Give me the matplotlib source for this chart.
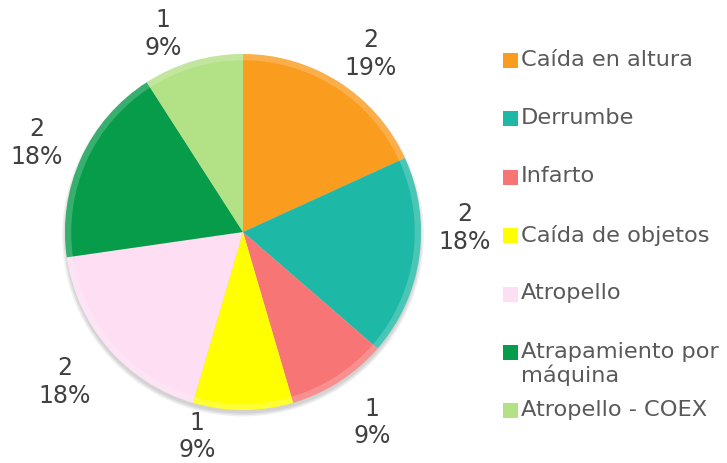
import matplotlib
matplotlib.use("Agg")
import numpy as np
import matplotlib.pyplot as plt
from matplotlib.patches import Rectangle, Circle

categories = ["Caída en altura", "Derrumbe", "Infarto", "Caída de objetos",
              "Atropello", "Atrapamiento por\nmáquina", "Atropello - COEX"]
counts = [2, 2, 1, 1, 2, 2, 1]
pct_labels = ["19%", "18%", "9%", "9%", "18%", "18%", "9%"]
colors = ["#FA9C1D", "#1EB8A6", "#F87575", "#FFFF00", "#FDDEF3", "#079C4A", "#B3E186"]

# label placement (Excel "best fit"): radius factor and angular nudge in degrees
label_r = [1.234, 1.248, 1.288, 1.172, 1.304, 1.263, 1.205]
label_dtheta = [-2.7, 9.4, 1.5, -12.7, -1.0, 0.9, 5.5]

W, H = 727, 464
fig = plt.figure(figsize=(W / 100, H / 100), dpi=100)

# pie centre / radius in pixels
cx, cy, R = 243, 233, 178
lim = 1.32
half = lim * R
ax = fig.add_axes([(cx - half) / W, (H - cy - half) / H, 2 * half / W, 2 * half / H])

# soft shadow
for i in range(3):
    ax.add_patch(Circle((0.0, -0.02), 1.0 + 0.008 * i, color="black",
                        alpha=0.06, lw=0, zorder=0))

wedges, _ = ax.pie(counts, colors=colors, startangle=90, counterclock=False,
                   wedgeprops=dict(linewidth=0))

for w, c, p, r, dt in zip(wedges, counts, pct_labels, label_r, label_dtheta):
    ang = np.deg2rad((w.theta1 + w.theta2) / 2 + dt)
    ax.text(r * np.cos(ang), r * np.sin(ang), f"{c}\n{p}", ha="center", va="center",
            fontsize=17, color="#404040", family="DejaVu Sans", linespacing=1.2)

# light bevel rim
ax.pie(counts, colors=["white"] * len(counts), startangle=90, counterclock=False,
       radius=1.0, wedgeprops=dict(width=0.035, linewidth=0, alpha=0.2))

ax.set_xlim(-lim, lim)
ax.set_ylim(-lim, lim)
ax.set_aspect("equal")
ax.axis("off")

# legend
y0, dy = 61.5, 58.4
for i, (lab, col) in enumerate(zip(categories, colors)):
    yc = y0 + i * dy
    fig.patches.append(Rectangle((503 / W, 1 - (yc + 7.5) / H), 15 / W, 15 / H,
                                 transform=fig.transFigure, facecolor=col,
                                 edgecolor="none"))
    fig.text(521 / W, 1 - (yc - 12) / H, lab, fontsize=16.2, color="#595959",
             family="DejaVu Sans", ha="left", va="top", linespacing=1.2)

fig.savefig("out.png", dpi=100)
